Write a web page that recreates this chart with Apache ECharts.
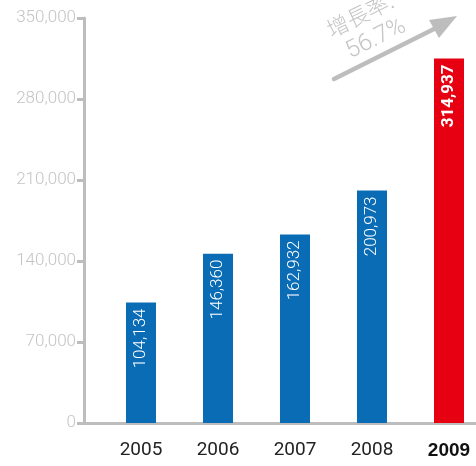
<!DOCTYPE html>
<html>
<head>
<meta charset="utf-8">
<script src="https://cdn.jsdelivr.net/npm/echarts@6/dist/echarts.min.js"></script>
<style>
  html, body { margin: 0; padding: 0; background: #fff; }
  #chart { width: 476px; height: 466px; }
</style>
</head>
<body>
<div id="chart"></div>
<script>
// Yearly totals, latest year highlighted in red
const years = ['2005', '2006', '2007', '2008', '2009'];
const totals = [104134, 146360, 162932, 200973, 314937];
const highlightYear = '2009';
const yMax = 350000;
const yStep = 70000;
const growthLabel = '增長率:';
const growthValue = '56.7%';

const BLUE = '#0b6cb6';
const RED = '#e60012';
const AXIS_GRAY = '#bdbdbd';
const TEXT_GRAY = '#c4c4c4';

const fmt = v => String(v).replace(/\B(?=(\d{3})+(?!\d))/g, ',');

const chart = echarts.init(document.getElementById('chart'), null, { renderer: 'canvas' });

chart.setOption({
  animation: false,
  grid: [
    // bar grid runs past the right edge so the last bar sits near the border
    { left: 102.5, width: 385, top: 18, bottom: 43, containLabel: false, outerBoundsMode: 'none' },
    // axis frame grid: left value axis and baseline
    { left: 84, right: 0, top: 18, bottom: 43, containLabel: false, outerBoundsMode: 'none' }
  ],
  xAxis: [
    {
      type: 'category',
      gridIndex: 0,
      data: years,
      axisLine: { show: false },
      axisTick: { show: false },
      axisLabel: {
        interval: 0,
        margin: 18,
        fontFamily: 'Roboto, "Liberation Sans", sans-serif',
        fontSize: 19,
        color: '#222',
        formatter: v => v === highlightYear ? '{b|' + v + '}' : v,
        rich: { b: { fontWeight: 'bold', fontSize: 19, color: '#111', fontFamily: '"Liberation Sans", Roboto, sans-serif' } }
      }
    },
    {
      type: 'value',
      gridIndex: 1,
      min: 0, max: 1,
      axisLine: { show: true, onZero: true, lineStyle: { color: AXIS_GRAY, width: 3 } },
      axisTick: { show: false },
      axisLabel: { show: false },
      splitLine: { show: false }
    }
  ],
  yAxis: [
    {
      type: 'value',
      gridIndex: 0,
      min: 0, max: yMax, interval: yStep,
      show: false
    },
    {
      type: 'value',
      gridIndex: 1,
      min: 0, max: yMax, interval: yStep,
      axisLine: { show: true, lineStyle: { color: AXIS_GRAY, width: 3 } },
      axisTick: { show: true, length: 7, lineStyle: { color: AXIS_GRAY, width: 3 } },
      splitLine: { show: false },
      axisLabel: {
        margin: 8,
        fontFamily: 'Roboto, "Liberation Sans", sans-serif',
        fontWeight: 300,
        fontSize: 17,
        color: TEXT_GRAY,
        formatter: v => fmt(v)
      }
    }
  ],
  series: [
    {
      type: 'bar',
      xAxisIndex: 0,
      yAxisIndex: 0,
      barWidth: 30,
      data: totals.map((v, i) => ({
        value: v,
        itemStyle: { color: years[i] === highlightYear ? RED : BLUE },
        label: years[i] === highlightYear ? { fontWeight: 'bold' } : {}
      })),
      label: {
        show: true,
        position: 'insideTop',
        distance: 6,
        rotate: 90,
        align: 'right',
        verticalAlign: 'middle',
        color: '#fff',
        fontFamily: 'Roboto, "Liberation Sans", sans-serif',
        fontWeight: 300,
        fontSize: 17,
        formatter: p => fmt(p.value)
      }
    }
  ],
  graphic: [
    {
      type: 'group',
      children: [
        {
          type: 'line',
          shape: { x1: 334, y1: 79, x2: 440, y2: 26 },
          style: { stroke: AXIS_GRAY, lineWidth: 4.5, lineCap: 'round' }
        },
        {
          type: 'polygon',
          shape: { points: [[457, 16], [429, 20], [439, 38]] },
          style: { fill: AXIS_GRAY }
        },
        {
          type: 'text',
          x: 360, y: 15,
          rotation: 0.46,
          style: {
            text: growthLabel,
            fill: TEXT_GRAY,
            font: '300 22px "Noto Sans CJK TC", sans-serif',
            align: 'center',
            verticalAlign: 'middle'
          }
        },
        {
          type: 'text',
          x: 376, y: 39,
          rotation: 0.46,
          style: {
            text: growthValue,
            fill: TEXT_GRAY,
            font: '300 24px Roboto, sans-serif',
            align: 'center',
            verticalAlign: 'middle'
          }
        }
      ]
    }
  ]
});
</script>
</body>
</html>
